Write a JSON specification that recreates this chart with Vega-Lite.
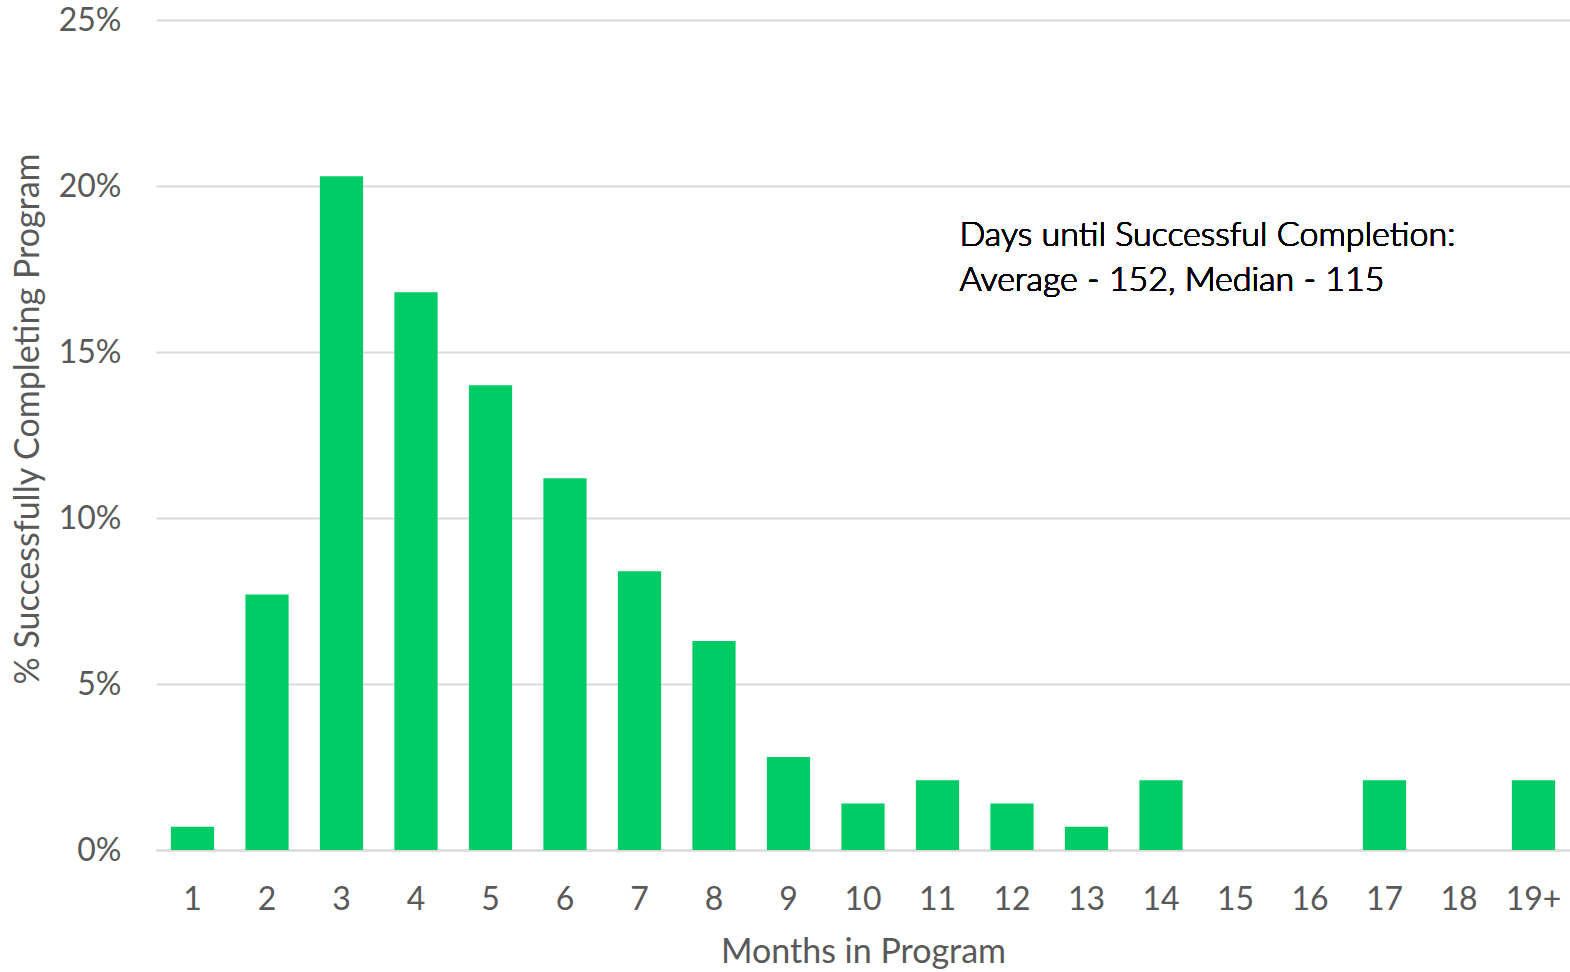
{
  "$schema": "https://vega.github.io/schema/vega-lite/v6.json",
  "width": 1570,
  "height": 972,
  "autosize": {"type": "fit", "contains": "padding"},
  "padding": {"left": 11, "top": -13, "right": 0, "bottom": 3},
  "config": {
    "view": {"stroke": null},
    "font": "Lato",
    "axis": {"labelFont": "Lato", "titleFont": "Lato", "labelColor": "#595959", "titleColor": "#595959", "titleFontWeight": "normal"}
  },
  "data": {
    "values": [
      {"month": "1", "pct": 0.007},
      {"month": "2", "pct": 0.077},
      {"month": "3", "pct": 0.203},
      {"month": "4", "pct": 0.168},
      {"month": "5", "pct": 0.140},
      {"month": "6", "pct": 0.112},
      {"month": "7", "pct": 0.084},
      {"month": "8", "pct": 0.063},
      {"month": "9", "pct": 0.028},
      {"month": "10", "pct": 0.014},
      {"month": "11", "pct": 0.021},
      {"month": "12", "pct": 0.014},
      {"month": "13", "pct": 0.007},
      {"month": "14", "pct": 0.021},
      {"month": "15", "pct": 0.0},
      {"month": "16", "pct": 0.0},
      {"month": "17", "pct": 0.021},
      {"month": "18", "pct": 0.0},
      {"month": "19+", "pct": 0.021}
    ]
  },
  "layer": [
    {
      "mark": {"type": "bar", "color": "#00CC66"},
      "encoding": {
        "x": {
          "field": "month", "type": "ordinal", "sort": null,
          "scale": {"paddingInner": 0.42, "paddingOuter": 0.2},
          "axis": {
            "title": "Months in Program", "labelAngle": 0, "labelFontSize": 32, "titleFontSize": 34,
            "domain": true, "domainColor": "#d9d9d9", "domainWidth": 2, "ticks": false,
            "labelPadding": 34, "titlePadding": 20
          }
        },
        "y": {
          "field": "pct", "type": "quantitative",
          "scale": {"domain": [0, 0.25]},
          "axis": {
            "title": "% Successfully Completing Program", "format": ".0%", "values": [0, 0.05, 0.1, 0.15, 0.2, 0.25],
            "labelFontSize": 32, "titleFontSize": 34, "domain": false, "ticks": false,
            "gridColor": "#d9d9d9", "gridWidth": 2, "labelPadding": 35, "titlePadding": 13
          }
        }
      }
    },
    {
      "mark": {"type": "text", "align": "left", "baseline": "middle", "fontSize": 34, "fontWeight": 300, "color": "#000000", "lineHeight": 45, "dx": 22},
      "encoding": {
        "x": {"datum": "11", "type": "ordinal"},
        "y": {"datum": 0.185, "type": "quantitative"},
        "text": {"value": ["Days until Successful Completion:", "Average - 152, Median - 115"]}
      }
    }
  ]
}
